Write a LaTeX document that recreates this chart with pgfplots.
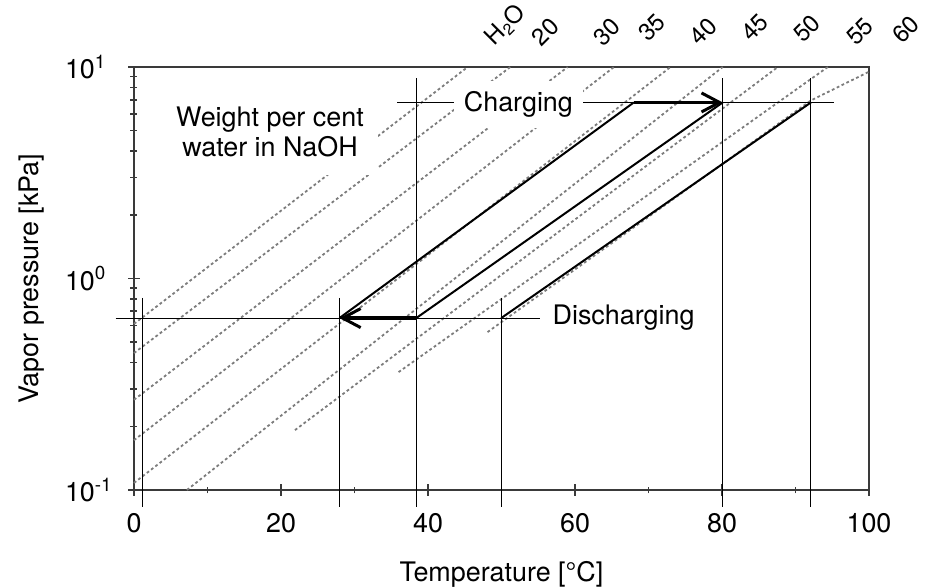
\documentclass[border=0pt]{standalone}
\usepackage{fontspec}
\setmainfont{TeX Gyre Heros}
\usepackage{pgfplots}
\pgfplotsset{compat=1.18}
\usetikzlibrary{arrows.meta}
\definecolor{IsoGray}{HTML}{7C7C7C}
\definecolor{AxisGray}{HTML}{3A3A3A}

\begin{document}
\begin{tikzpicture}[font=\fontsize{13.5}{15}\selectfont]
\begin{axis}[
  scale only axis, width=367.5bp, height=211.5bp,
  xmin=0, xmax=100, ymode=log, ymin=0.1, ymax=10,
  clip=false,
  axis line style={line width=1bp, AxisGray},
  xtick={0,20,40,60,80,100}, xticklabels={0,20,40,60,80,100},
  minor xtick={10,30,50,70,90},
  ytick={0.1,1,10},
  yticklabels={10\textsuperscript{-1},10\textsuperscript{0},10\textsuperscript{1}},
  minor ytick={0.2,0.3,0.4,0.5,0.6,0.7,0.8,0.9,2,3,4,5,6,7,8,9},
  xtick pos=bottom, ytick pos=left,
  tick align=center,
  major tick length=6bp, minor tick length=3.5bp,
  tick style={line width=0.8bp, AxisGray},
  xticklabel style={yshift=-5bp},
  yticklabel style={anchor=west, xshift=-35bp},
  xlabel={Temperature [°C]}, ylabel={Vapor pressure [kPa]},
  xlabel style={at={(axis description cs:0.5,-0.217)}, anchor=base},
  ylabel style={at={(axis description cs:-0.13,0.5)}, anchor=base},
  iso/.style={IsoGray, line width=0.9bp, dash pattern=on 1.4bp off 1.3bp},
  guide/.style={black, line width=0.55bp},
  cyc/.style={black, line width=1bp},
  arr/.style={black, line width=1.6bp, -{Straight Barb[length=9bp,width=9.5bp,line width=1.5bp]}},
]
% lines of equal concentration (H2O, 20 ... 60)
\addplot[iso] coordinates {(0,0.61) (45.4,10)};
\addplot[iso] coordinates {(0,0.444) (51.2,10)};
\addplot[iso] coordinates {(0,0.267) (59.0,10)};
\addplot[iso] coordinates {(0,0.172) (65.3,10)};
\addplot[iso] coordinates {(0,0.108) (73.0,10)};
\addplot[iso] coordinates {(7.2,0.1) (80.1,10)};
\addplot[iso] coordinates {(21.9,0.192) (87.6,10)};
\addplot[iso] coordinates {(36.0,0.361) (94.4,10)};
\addplot[iso] coordinates {(48.1,0.558) (92.1,6.95) (100,9.5)};

% guide lines
\addplot[guide] coordinates {(-2.5,0.65) (55.3,0.65)};
\addplot[guide] coordinates {(35.8,6.8) (95.2,6.8)};
\addplot[guide] coordinates {(1.2,0.81) (1.2,0.083)};
\addplot[guide] coordinates {(27.95,0.81) (27.95,0.083)};
\addplot[guide] coordinates {(38.4,8.87) (38.4,0.083)};
\addplot[guide] coordinates {(49.96,0.81) (49.96,0.083)};
\addplot[guide] coordinates {(80.1,8.87) (80.1,0.083)};
\addplot[guide] coordinates {(92.1,8.87) (92.1,0.083)};

\node[fill=white, align=center, inner xsep=7bp, inner ysep=9bp] at (axis cs:18.5,4.93) {Weight per cent\\water in NaOH};
\node[fill=white, inner xsep=5bp, inner ysep=5.5bp] at (axis cs:52.3,6.65) {Charging};
\node[anchor=west, inner sep=0] at (axis cs:56.9,0.65) {Discharging};

% cycle
\addplot[cyc] coordinates {(27.95,0.65) (68,6.8)};
\addplot[cyc] coordinates {(38.4,0.65) (80.1,6.8)};
\addplot[cyc] coordinates {(49.96,0.65) (92.1,6.8)};
\addplot[arr] coordinates {(68,6.8) (80.1,6.8)};
\addplot[arr] coordinates {(38.4,0.65) (27.95,0.65)};

% concentration labels
\begin{scope}[every node/.style={font=\fontsize{12}{14}\selectfont, rotate=45, anchor=south west, inner sep=0}]
\node at (axis cs:49.4,12.1) {H\textsubscript{2}O};
\node at (axis cs:55.5,12.3) {20};
\node at (axis cs:63.9,12.3) {30};
\node at (axis cs:70.0,12.9) {35};
\node at (axis cs:77.0,12.4) {40};
\node at (axis cs:84.0,12.9) {45};
\node at (axis cs:91.1,12.8) {50};
\node at (axis cs:98.3,12.4) {55};
\node at (axis cs:104.6,12.6) {60};
\end{scope}
\end{axis}
\pgfresetboundingbox
\path[use as bounding box] ([shift={(-67bp,-49bp)}]current axis.south west) rectangle ([shift={(29bp,33.5bp)}]current axis.north east);
\end{tikzpicture}
\end{document}
